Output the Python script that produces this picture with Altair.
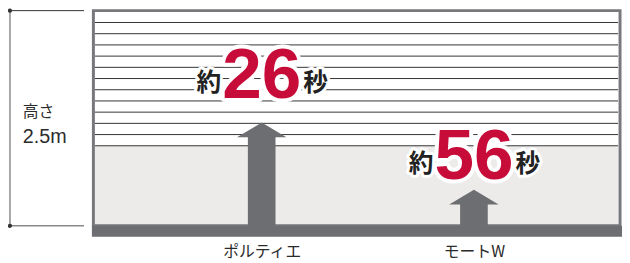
import altair as alt
import pandas as pd

# ---- data ----
categories = ["ポルティエ", "モートW"]
seconds = [26, 56]
arrow_tip_m = [1.20, 0.42]          # arrow tip heights (m)
shutter_height_m = 2.5
gray_top_m = 0.93                    # top of the grey (open) zone (m)
slat_count = 12
slat_top_m = 2.362

# ---- layout (not data) ----
label_base_m = [1.49, 0.54]          # baseline of the "約xx秒" labels
W, H = 622, 230
PX_PER_M = 87.2
floor_cy = 219
y_dom = [-(H - floor_cy) / PX_PER_M, floor_cy / PX_PER_M]
cat_x = [257, 472]

FRAME = "#77787b"
DARK = "#6d6e71"
RED = "#c70c3a"
TXT = "#2b2b2b"
JP = "Noto Sans CJK JP"
LAT = "Liberation Sans"

df = pd.DataFrame({
    "cat": categories,
    "sec": seconds,
    "tip": arrow_tip_m,
    "lab": label_base_m,
    "floor": [0.0] * len(categories),
})
df["num"] = df["sec"].astype(str)
df["pre"] = "約"
df["post"] = "秒"

pitch = (slat_top_m - gray_top_m) / (slat_count - 1)
slats = pd.DataFrame({"h": [gray_top_m + k * pitch for k in range(slat_count)]})

geo = pd.DataFrame({
    "bottom": [0.0],
    "gray_top": [gray_top_m],
    "top": [shutter_height_m],
    "bar_bottom": [y_dom[0]],
    "mid": [shutter_height_m / 2],
    "t1": ["高さ"],
    "t2": [f"{shutter_height_m}m"],
})
dots = pd.DataFrame({"h": [shutter_height_m, 0.0]})

ys = alt.Scale(domain=y_dom, nice=False, zero=False)


def Y(f):
    return alt.Y(f"{f}:Q", scale=ys, axis=None)


xs = alt.X(
    "cat:N",
    scale=alt.Scale(type="point", domain=categories, range=cat_x, padding=0),
    sort=categories,
    title=None,
    axis=alt.Axis(domain=False, ticks=False, tickSize=0, grid=False, labelAngle=0,
                  labelFont=JP, labelFontSize=16, labelColor=TXT,
                  labelPadding=15, labelBaseline="middle"),
)

gray = alt.Chart(geo).mark_rect(color="#ecebe9").encode(
    x=alt.value(88), x2=alt.value(618), y=Y("gray_top"), y2="bottom:Q")

slat_layer = alt.Chart(slats).mark_rule(color="#333333", strokeWidth=1).encode(
    x=alt.value(88), x2=alt.value(618), y=Y("h"))

frame = alt.Chart(geo).mark_rect(fill="white", fillOpacity=0, stroke=FRAME, strokeWidth=3).encode(
    x=alt.value(86.5), x2=alt.value(620), y=Y("top"), y2="bottom:Q")

bar = alt.Chart(geo).mark_rect(color=DARK).encode(
    x=alt.value(85), x2=alt.value(622), y=Y("bottom"), y2="bar_bottom:Q")

dim_v = alt.Chart(geo).mark_rule(color="#8a8a8a", strokeWidth=1.5).encode(
    x=alt.value(2), y=Y("top"), y2="bottom:Q")
dim_top = alt.Chart(geo).mark_rule(color="#333333", strokeWidth=1).encode(
    x=alt.value(2), x2=alt.value(77), y=Y("top"))
dim_bot = alt.Chart(geo).mark_rule(color="#8a8a8a", strokeWidth=1.5).encode(
    x=alt.value(2), x2=alt.value(77), y=Y("bottom"))
dim_dots = alt.Chart(dots).mark_point(filled=True, size=18, color="#333333", opacity=1).encode(
    x=alt.value(2), y=Y("h"))
dim_t1 = alt.Chart(geo).mark_text(align="left", baseline="alphabetic", dy=-1, font=JP,
                                  fontSize=16, color=TXT).encode(
    x=alt.value(15), y=Y("mid"), text="t1:N")
dim_t2 = alt.Chart(geo).mark_text(align="left", baseline="alphabetic", dy=25, font=LAT,
                                  fontSize=20, color=TXT).encode(
    x=alt.value(15), y=Y("mid"), text="t2:N")

stem = alt.Chart(df).mark_rule(color=DARK, strokeWidth=28, strokeCap="butt", y2Offset=14).encode(
    x=xs, y=Y("floor"), y2="tip:Q")
head = alt.Chart(df).mark_point(shape="M-1,0.6L0,0L1,0.6Z", size=2500, filled=True,
                                color=DARK, opacity=1, strokeWidth=0).encode(
    x=xs, y=Y("tip"))


def txt(field, halo, **kw):
    if halo:
        m = alt.Chart(df).mark_text(baseline="alphabetic", fill="white", stroke="white",
                                    strokeJoin="round", **kw)
    else:
        m = alt.Chart(df).mark_text(baseline="alphabetic", **kw)
    return m.encode(x=xs, y=Y("lab"), text=f"{field}:N")


num_halo = txt("num", True, font=LAT, fontWeight="bold", fontSize=72, align="center", strokeWidth=8)
num = txt("num", False, font=LAT, fontWeight="bold", fontSize=72, align="center", fill=RED)
pre_halo = txt("pre", True, font=JP, fontWeight="bold", fontSize=25, align="right", dx=-41, dy=-7, strokeWidth=6)
pre = txt("pre", False, font=JP, fontWeight="bold", fontSize=25, align="right", dx=-41, dy=-7, fill="#222222")
post_halo = txt("post", True, font=JP, fontWeight="bold", fontSize=25, align="left", dx=42, dy=-7, strokeWidth=6)
post = txt("post", False, font=JP, fontWeight="bold", fontSize=25, align="left", dx=42, dy=-7, fill="#222222")

chart = alt.layer(
    gray, slat_layer, frame, bar,
    dim_v, dim_top, dim_bot, dim_dots, dim_t1, dim_t2,
    stem, head,
    num_halo, pre_halo, post_halo, num, pre, post,
).properties(
    width=W, height=H,
    padding={"left": 0, "top": 0, "right": 0, "bottom": 25},
    autosize=alt.AutoSizeParams(type="none"),
).configure_view(stroke=None)

chart.save("out.html", embed_options={"renderer": "svg", "actions": False})
